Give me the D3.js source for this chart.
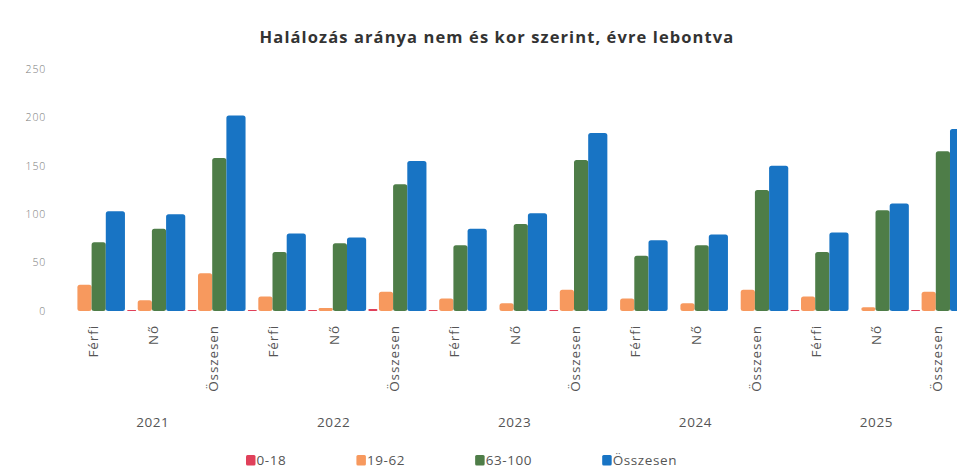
<!DOCTYPE html>
<html>
<head>
<meta charset="utf-8">
<script src="https://cdn.jsdelivr.net/npm/d3@7/dist/d3.min.js"></script>
<style>
  html, body { margin: 0; padding: 0; background: #fff; }
  svg { display: block; }
</style>
</head>
<body>
<svg id="chart" width="957" height="468"></svg>
<script>
// ---- data ----
const years = ["2021", "2022", "2023", "2024", "2025"];
const groups = ["Férfi", "Nő", "Összesen"];
const seriesNames = ["0-18", "19-62", "63-100", "Összesen"];
const v0_18   = [0, 1, 1,   1, 1, 2,   1, 0, 1,   0, 0, 0,   1, 0, 1];
const v19_62  = [27, 11, 39,  15, 3, 20,  13, 8, 22,  13, 8, 22,  15, 4, 20];
const v63_100 = [71, 85, 158, 61, 70, 131, 68, 90, 156, 57, 68, 125, 61, 104, 165];
const vTotal  = [103, 100, 202, 80, 76, 155, 85, 101, 184, 73, 79, 150, 81, 111, 188];
const yTicks = [0, 50, 100, 150, 200, 250];
const title = "Halálozás aránya nem és kor szerint, évre lebontva";

// ---- style ----
const colors = ["#e0405a", "#f7995e", "#4e7d48", "#1874c4"];
const slotWeights = [0.85, 1, 1, 1.35];
const slotInset = [1.5, 0, 0, 0];
const font = "'Open Sans', 'DejaVu Sans', sans-serif";

const svg = d3.select("#chart");
const categories = [];
years.forEach(y => groups.forEach(g => categories.push({ year: y, group: g, key: y + "|" + g })));
const valuesBySeries = [v0_18, v19_62, v63_100, vTotal];

const x0 = d3.scaleBand().domain(categories.map(d => d.key)).range([62.35, 62.35 + 15 * 60.3]).padding(0);
const cumW = [0];
slotWeights.forEach((w, i) => cumW.push(cumW[i] + w));
const xSlot = d3.scaleLinear().domain([0, cumW[cumW.length - 1]]).range([3, 62.6]);
const y = d3.scaleLinear().domain([0, 250]).range([311, 69]);

// title
svg.append("text")
  .attr("x", 497).attr("y", 43)
  .attr("text-anchor", "middle")
  .attr("font-family", font).attr("font-weight", 700).attr("font-size", 16.5)
  .attr("letter-spacing", 1.1)
  .attr("fill", "#333")
  .text(title);

// y axis labels
const yAxis = d3.axisLeft(y).tickValues(yTicks).tickSize(0).tickPadding(0);
const yg = svg.append("g").attr("transform", "translate(46,0)").call(yAxis);
yg.select(".domain").remove();
yg.selectAll("text")
  .attr("font-family", font).attr("font-size", 10.5).attr("fill", "#7a7a7a")
  .attr("letter-spacing", 0.8).attr("font-weight", 300);

// bars
categories.forEach((c, ci) => {
  valuesBySeries.forEach((vals, si) => {
    const v = vals[ci];
    if (!v) return;
    const xl = x0(c.key) + xSlot(cumW[si]) + slotInset[si];
    const xr = x0(c.key) + xSlot(cumW[si + 1]) - slotInset[si];
    const h = y(0) - y(v);
    svg.append("rect")
      .attr("x", xl).attr("y", y(v))
      .attr("width", xr - xl).attr("height", h)
      .attr("rx", Math.min(2.5, h / 2)).attr("ry", Math.min(2.5, h / 2))
      .attr("fill", colors[si]);
  });
});

// category labels (rotated)
const cx = d => x0(d.key) + x0.bandwidth() / 2;
svg.append("g").selectAll("text").data(categories).join("text")
  .attr("transform", d => `translate(${cx(d) + 5},325) rotate(-90)`)
  .attr("text-anchor", "end")
  .attr("font-family", font).attr("font-size", 13.5).attr("fill", "#555")
  .attr("letter-spacing", 0.9)
  .text(d => d.group);

// year labels
svg.append("g").selectAll("text").data(years).join("text")
  .attr("x", yr => x0(yr + "|Nő") + x0.bandwidth() / 2)
  .attr("y", 427)
  .attr("text-anchor", "middle")
  .attr("font-family", font).attr("font-size", 13.5).attr("fill", "#555")
  .attr("letter-spacing", 0.6)
  .text(yr => yr);

// legend
const lg = svg.append("g");
let lx = 246;
seriesNames.forEach((name, i) => {
  const item = lg.append("g").attr("transform", `translate(${lx},0)`);
  item.append("rect").attr("x", 0).attr("y", 455).attr("width", 9.5).attr("height", 10.5)
    .attr("rx", 1.5).attr("fill", colors[i]);
  const t = item.append("text").attr("x", 10.5).attr("y", 465)
    .attr("font-family", font).attr("font-size", 13.5).attr("fill", "#555")
    .attr("letter-spacing", 0.6)
    .text(name);
  lx += 10.5 + t.node().getComputedTextLength() + 70;
});
</script>
</body>
</html>
